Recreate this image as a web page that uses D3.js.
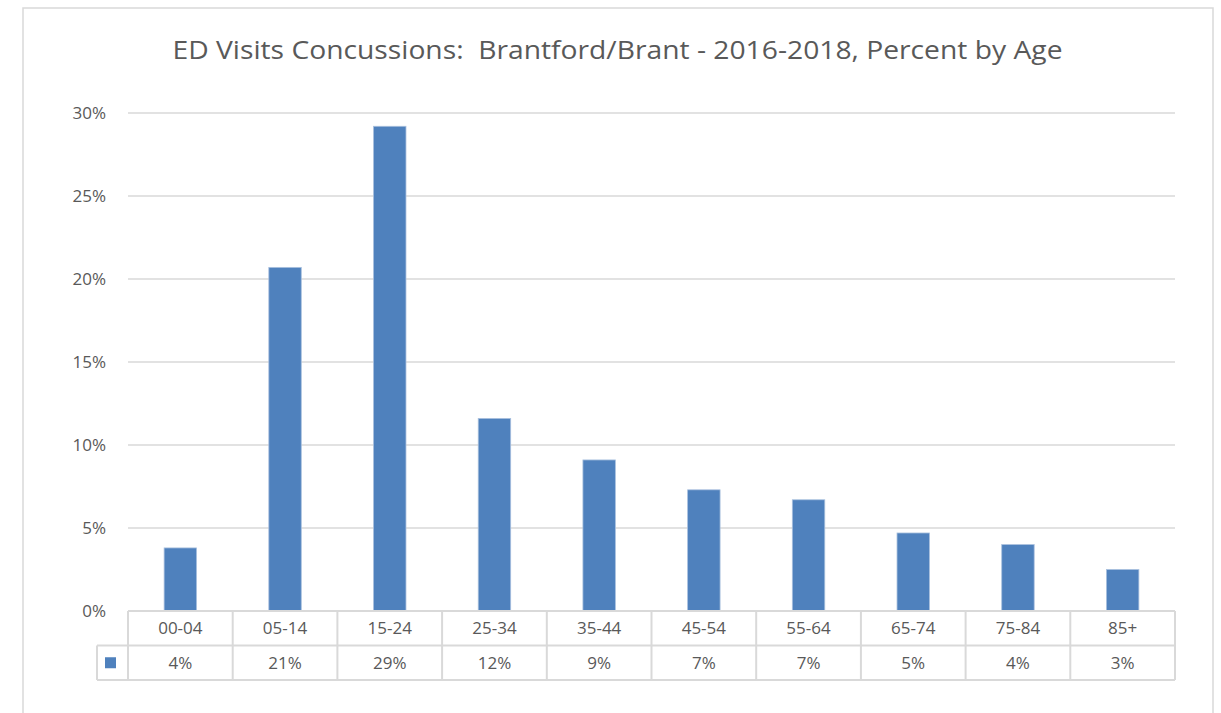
<!DOCTYPE html>
<html>
<head>
<meta charset="utf-8">
<script src="https://cdn.jsdelivr.net/npm/d3@7"></script>
<style>
  body { margin: 0; background: #fff; }
  text { font-family: "Open Sans", "Liberation Sans", sans-serif; fill: #595959; }
</style>
</head>
<body>
<div id="chart"></div>
<script>
// data
const ageGroups = ['00-04', '05-14', '15-24', '25-34', '35-44', '45-54', '55-64', '65-74', '75-84', '85+'];
const percentValues = [3.8, 20.7, 29.2, 11.6, 9.1, 7.3, 6.7, 4.7, 4.0, 2.5];
const tableLabels = ['4%', '21%', '29%', '12%', '9%', '7%', '7%', '5%', '4%', '3%'];
const yTicks = [0, 5, 10, 15, 20, 25, 30];

const W = 1221, H = 713;
const plot = { left: 128, right: 1175, top: 113, bottom: 611 };
const rowH = 34.5;
const legendLeft = 97;
const barColor = '#4f81bd';
const gridColor = '#d9d9d9';

const svg = d3.select('#chart').append('svg')
  .attr('width', W)
  .attr('height', H);

// outer chart border
svg.append('rect')
  .attr('x', 23).attr('y', 8)
  .attr('width', 1190).attr('height', 740)
  .attr('fill', 'none')
  .attr('stroke', gridColor)
  .attr('stroke-width', 1.5);

// title (two spaces after the colon, as in the original)
svg.append('text')
  .attr('x', 617.5).attr('y', 59)
  .attr('text-anchor', 'middle')
  .attr('font-size', 26)
  .attr('textLength', 890)
  .attr('lengthAdjust', 'spacingAndGlyphs')
  .style('white-space', 'pre')
  .text('ED Visits Concussions:  Brantford/Brant - 2016-2018, Percent by Age');

const x = d3.scaleBand()
  .domain(ageGroups)
  .range([plot.left, plot.right])
  .paddingInner(0.69)
  .paddingOuter(0.345);

const cols = d3.scaleBand()
  .domain(ageGroups)
  .range([plot.left, plot.right]);

const y = d3.scaleLinear()
  .domain([0, 30])
  .range([plot.bottom, plot.top]);

// gridlines
svg.append('g')
  .selectAll('line')
  .data(yTicks.filter(d => d > 0))
  .enter()
  .append('line')
  .attr('x1', plot.left).attr('x2', plot.right)
  .attr('y1', d => y(d)).attr('y2', d => y(d))
  .attr('stroke', gridColor)
  .attr('stroke-width', 1.5);

// y axis labels
const yAxis = svg.append('g')
  .attr('transform', `translate(${plot.left - 19}, 0)`)
  .call(d3.axisLeft(y).tickValues(yTicks).tickFormat(d => d + '%').tickSize(0));
yAxis.select('.domain').remove();
yAxis.selectAll('text')
  .attr('font-size', 17)
  .attr('fill', '#595959')
  .attr('font-family', '"Open Sans", "Liberation Sans", sans-serif');

// bars
svg.append('g')
  .selectAll('rect')
  .data(percentValues)
  .enter()
  .append('rect')
  .attr('x', (d, i) => x(ageGroups[i]))
  .attr('y', d => y(d))
  .attr('width', x.bandwidth())
  .attr('height', d => y(0) - y(d))
  .attr('fill', barColor)
  .attr('stroke', '#a9c0de')
  .attr('stroke-width', 0.8);

// data table
const table = svg.append('g')
  .attr('fill', 'none')
  .attr('stroke', gridColor)
  .attr('stroke-width', 2);

const r0 = plot.bottom, r1 = r0 + rowH, r2 = r1 + rowH;
table.append('line').attr('x1', plot.left).attr('x2', plot.right).attr('y1', r0).attr('y2', r0);
table.append('line').attr('x1', legendLeft).attr('x2', plot.right).attr('y1', r1).attr('y2', r1);
table.append('line').attr('x1', legendLeft).attr('x2', plot.right).attr('y1', r2).attr('y2', r2);
table.append('line').attr('x1', legendLeft).attr('x2', legendLeft).attr('y1', r1).attr('y2', r2);
table.selectAll('.vline')
  .data(ageGroups.concat(['end']))
  .enter()
  .append('line')
  .attr('class', 'vline')
  .attr('x1', (d, i) => plot.left + i * cols.bandwidth())
  .attr('x2', (d, i) => plot.left + i * cols.bandwidth())
  .attr('y1', r0).attr('y2', r2);

svg.append('g')
  .selectAll('text')
  .data(ageGroups)
  .enter()
  .append('text')
  .attr('x', d => cols(d) + cols.bandwidth() / 2)
  .attr('y', r0 + rowH / 2 + 6)
  .attr('text-anchor', 'middle')
  .attr('font-size', 17)
  .text(d => d);

svg.append('g')
  .selectAll('text')
  .data(tableLabels)
  .enter()
  .append('text')
  .attr('x', (d, i) => cols(ageGroups[i]) + cols.bandwidth() / 2)
  .attr('y', r1 + rowH / 2 + 6)
  .attr('text-anchor', 'middle')
  .attr('font-size', 17)
  .text(d => d);

// legend key
svg.append('rect')
  .attr('x', 105).attr('y', r1 + rowH / 2 - 5.5)
  .attr('width', 11).attr('height', 11)
  .attr('fill', barColor);
</script>
</body>
</html>
